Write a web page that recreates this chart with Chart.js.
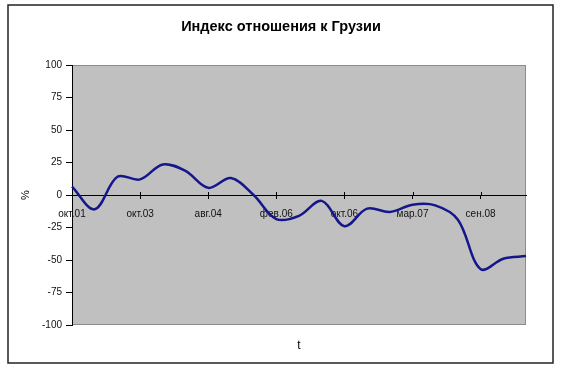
<!DOCTYPE html>
<html>
<head>
<meta charset="utf-8">
<script src="https://cdn.jsdelivr.net/npm/chart.js@4/dist/chart.umd.min.js"></script>
<style>
  html, body { margin: 0; padding: 0; background: #fff; }
  #wrap { width: 561px; height: 370px; }
</style>
</head>
<body>
<div id="wrap"><canvas id="c" width="561" height="370"></canvas></div>
<script>
const titleText = 'Индекс отношения к Грузии';
const xTitle = 't';
const yTitle = '%';
const categories = ['окт.01','','','окт.03','','','авг.04','','','фев.06','','','окт.06','','','мар.07','','','сен.08','',''];
const values = [6.5, -11, 14, 12, 23.5, 18.5, 5.5, 13, 0, -18.5, -16, -4.5, -24, -10.5, -13, -7.5, -8, -19, -57, -49, -47];
const yTicks = [100, 75, 50, 25, 0, -25, -50, -75, -100];

const FONT = 'Liberation Sans, Arial, sans-serif';
const labelEvery = 3;

const framePlugin = {
  id: 'frame',
  beforeDraw(chart) {
    const {ctx, chartArea: a} = chart;
    ctx.save();
    ctx.fillStyle = '#ffffff';
    ctx.fillRect(0, 0, chart.width, chart.height);
    ctx.strokeStyle = '#222';
    ctx.lineWidth = 1.5;
    ctx.strokeRect(8, 5, 545, 358);
    ctx.fillStyle = '#c0c0c0';
    ctx.fillRect(a.left, a.top, a.right - a.left, a.bottom - a.top);
    ctx.strokeStyle = '#8c8c8c';
    ctx.lineWidth = 1;
    ctx.strokeRect(a.left + 0.5, a.top + 0.5, a.right - a.left - 1, a.bottom - a.top - 1);
    ctx.fillStyle = '#000';
    ctx.font = 'bold 14.5px ' + FONT;
    ctx.textAlign = 'center';
    ctx.textBaseline = 'middle';
    ctx.fillText(titleText, 281, 27);
    ctx.restore();
  },
  afterDatasetsDraw(chart) {
    const {ctx, chartArea: a, scales} = chart;
    const y0 = scales.y.getPixelForValue(0);
    ctx.save();
    ctx.strokeStyle = '#000';
    ctx.lineWidth = 1;
    categories.forEach((c, i) => {
      if (i % labelEvery === 0 && i > 0) {
        const x = Math.round(scales.x.getPixelForValue(i)) + 0.5;
        ctx.beginPath();
        ctx.moveTo(x, y0 - 3);
        ctx.lineTo(x, y0);
        ctx.stroke();
      }
    });
    ctx.fillStyle = '#000';
    ctx.font = '12px ' + FONT;
    ctx.textAlign = 'center';
    ctx.textBaseline = 'middle';
    ctx.fillText(xTitle, (a.left + a.right) / 2, a.bottom + 21);
    ctx.restore();
  }
};

new Chart(document.getElementById('c'), {
  type: 'line',
  data: {
    labels: categories,
    datasets: [{
      data: values,
      borderColor: '#16168c',
      borderWidth: 2.5,
      pointRadius: 0,
      tension: 0.35,
      fill: false
    }]
  },
  options: {
    responsive: false,
    animation: false,
    devicePixelRatio: 1,
    layout: { padding: { top: 65, left: 15, right: 35, bottom: 45 } },
    plugins: {
      legend: { display: false },
      tooltip: { enabled: false },
      title: { display: false }
    },
    scales: {
      x: {
        position: { y: 0 },
        offset: false,
        grid: {
          drawOnChartArea: false,
          drawTicks: true,
          tickLength: 3,
          color: (ctx) => (ctx.index % labelEvery === 0 ? '#000' : 'rgba(0,0,0,0)')
        },
        border: { display: true, color: '#000', width: 1 },
        ticks: {
          autoSkip: false,
          maxRotation: 0,
          minRotation: 0,
          padding: 10,
          color: '#111',
          font: { family: FONT, size: 10 }
        }
      },
      y: {
        position: 'left',
        min: -100,
        max: 100,
        afterFit(scale) { scale.width = 57; },
        afterBuildTicks(scale) { scale.ticks = yTicks.map(v => ({ value: v })); },
        grid: {
          drawOnChartArea: false,
          drawTicks: true,
          tickLength: 6,
          color: '#000'
        },
        border: { display: true, color: '#000', width: 1 },
        ticks: {
          padding: 4,
          color: '#111',
          font: { family: FONT, size: 10 }
        },
        title: {
          display: true,
          text: yTitle,
          color: '#000',
          font: { family: FONT, size: 11 },
          padding: { top: 4, bottom: 4 }
        }
      }
    }
  },
  plugins: [framePlugin]
});
</script>
</body>
</html>
